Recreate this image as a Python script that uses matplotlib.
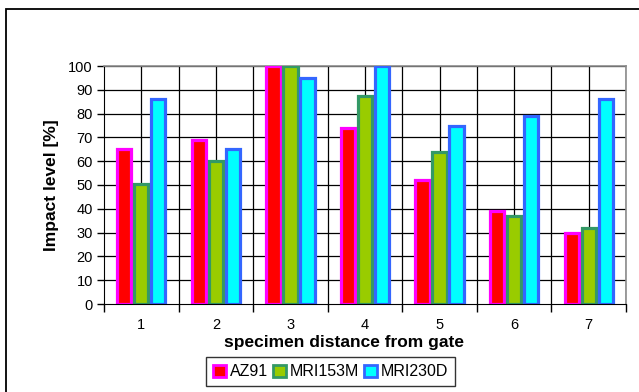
import matplotlib

matplotlib.use("Agg")
import matplotlib.pyplot as plt
import numpy as np
from matplotlib.patches import Rectangle

# impact level per specimen position (distance from gate)
positions = ["1", "2", "3", "4", "5", "6", "7"]
az91 = [65, 69, 100, 74, 52, 39, 30]
mri153m = [50.5, 60, 100, 87.5, 64, 37, 32]
mri230d = [86, 65, 95, 100, 75, 79, 86]

series = [
    ("AZ91", az91, "#FF0000", "#FF00FF"),
    ("MRI153M", mri153m, "#99CC00", "#339966"),
    ("MRI230D", mri230d, "#00FFFF", "#3366FF"),
]

plt.rcParams.update({
    "font.family": ["Liberation Sans", "DejaVu Sans"],
    "font.size": 10,
})

W, H = 639, 392
fig = plt.figure(figsize=(W / 100, H / 100), dpi=100)
fig.patch.set_facecolor("white")
# chart-area border
fig.patches.append(Rectangle((6 / W, -0.1), 1.2, (H - 9) / H + 0.1,
                             transform=fig.transFigure, fill=False,
                             edgecolor="black", lw=1.3, zorder=0))

ax = fig.add_axes([104 / W, 1 - 304 / H, (626 - 104) / W, (304 - 66) / H])

x = np.arange(len(positions))
step = 0.228
w = 0.19
for k, (name, vals, face, edge) in enumerate(series):
    ax.bar(x + (k - 1) * step, vals, w, color=face, edgecolor=edge,
           linewidth=2.3, label=name, zorder=3)

ax.set_xlim(-0.5, len(positions) - 0.5)
ax.set_ylim(0, 100)
ax.set_yticks(range(0, 101, 10))

# vertical grid at every half category, horizontal every 10
for gx in np.arange(-0.5, len(positions), 0.5)[1:]:
    ax.axvline(gx, color="black", lw=0.9, zorder=1)
for gy in range(10, 101, 10):
    ax.axhline(gy, color="black", lw=0.9, zorder=1)

ax.set_xticks(x)
ax.set_xticklabels(positions)
ax.set_xticks(np.arange(-0.5, len(positions), 1.0), minor=True)
ax.tick_params(axis="x", which="major", length=0, pad=10, labelsize=10.5)
ax.tick_params(axis="x", which="minor", length=6, width=1, direction="out")
ax.tick_params(axis="y", length=5, width=1, direction="out", pad=3, labelsize=10.5)

for side in ("top", "right"):
    ax.spines[side].set_color("#8c8c8c")
    ax.spines[side].set_linewidth(1.2)
ax.spines["left"].set_color("black")
ax.spines["bottom"].set_color("black")
ax.spines["bottom"].set_zorder(4)

ax.set_ylabel("Impact level [%]", fontsize=12.5, fontweight="bold")
ax.yaxis.set_label_coords((52 - 104) / 522, 0.5)
ax.yaxis.label.set_va("center")
ax.set_xlabel("specimen distance from gate", fontsize=12.5, fontweight="bold")
ax.xaxis.set_label_coords((344 - 104) / 522, (304 - 342) / 238)
ax.xaxis.label.set_va("center")

leg = ax.legend(loc="upper center", bbox_to_anchor=(330.5 / W, 1 - 357 / H),
                bbox_transform=fig.transFigure, ncol=3,
                fontsize=11.5, frameon=True, fancybox=False, edgecolor="black",
                handlelength=0.8, handleheight=0.8, handletextpad=0.25,
                columnspacing=0.3, borderpad=0.45, borderaxespad=0)
leg.get_frame().set_linewidth(1.0)
for h in leg.legend_handles:
    h.set_linewidth(2.0)

fig.savefig("out.png", dpi=100, facecolor="white")
